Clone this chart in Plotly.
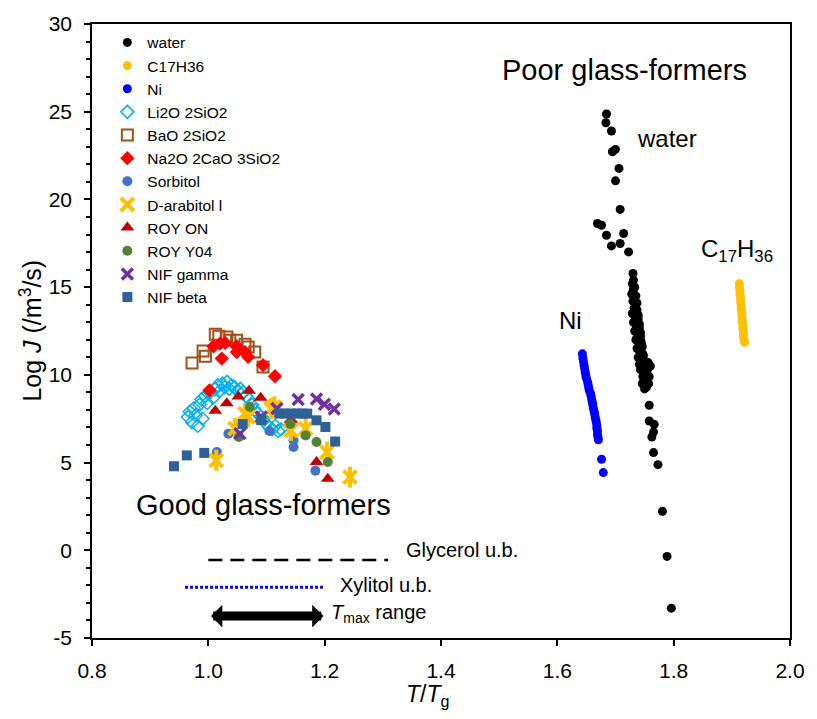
import plotly.graph_objects as go

# ---- nucleation rate data: log10 J (m^-3 s^-1) against reduced temperature T/Tg ----
water_x = [1.6845, 1.6835, 1.693, 1.6947, 1.6998, 1.706, 1.700, 1.708, 1.669, 1.676,
           1.6845, 1.714, 1.693, 1.708, 1.7225, 1.730,
           1.729, 1.731, 1.728, 1.733, 1.730, 1.735, 1.732, 1.737, 1.729, 1.734,
           1.739, 1.731, 1.736, 1.741, 1.733, 1.738, 1.743, 1.735, 1.740, 1.745,
           1.737, 1.742, 1.747, 1.739, 1.744, 1.750, 1.741, 1.746, 1.752, 1.743,
           1.749, 1.755, 1.747, 1.752, 1.746, 1.757, 1.753,
           1.731, 1.733, 1.730, 1.735, 1.732, 1.737, 1.734, 1.736, 1.739, 1.735,
           1.741, 1.738, 1.743, 1.740, 1.744, 1.746, 1.742, 1.748, 1.745, 1.750,
           1.747, 1.753, 1.749, 1.756, 1.751, 1.760, 1.748, 1.758, 1.754, 1.750,
           1.758, 1.758, 1.7665, 1.7654, 1.7625, 1.7654, 1.773, 1.7807, 1.7886, 1.796]
water_y = [24.87, 24.37, 23.9, 22.72, 22.85, 21.77, 21.06, 19.43, 18.63, 18.53,
           17.96, 18.06, 17.35, 17.49, 17.01, 15.78,
           15.2, 14.9, 14.6, 14.4, 14.2, 14.0, 13.8, 13.7, 13.5, 13.3,
           13.2, 13.0, 12.8, 12.7, 12.5, 12.3, 12.2, 12.0, 11.8, 11.7,
           11.5, 11.3, 11.2, 11.0, 10.9, 10.8, 10.6, 10.5, 10.6, 10.3,
           10.1, 10.3, 9.9, 9.7, 9.5, 9.5, 9.3,
           15.4, 15.0, 14.75, 14.5, 14.3, 14.1, 13.9, 13.6, 13.4, 13.1,
           12.9, 12.6, 12.4, 12.1, 11.9, 11.6, 11.4, 11.1, 10.95, 10.7,
           10.4, 10.2, 10.0, 10.7, 9.8, 10.5, 9.6, 9.9, 9.4, 9.2,
           8.27, 7.37, 7.18, 6.74, 6.46, 5.57, 4.88, 2.22, -0.35, -3.30]

c17_x = [1.913, 1.913, 1.914, 1.914, 1.915, 1.915, 1.916, 1.916, 1.917, 1.917,
         1.918, 1.918, 1.919, 1.919, 1.920, 1.920, 1.921, 1.922]
c17_y = [15.2, 15.0, 14.8, 14.6, 14.4, 14.2, 14.0, 13.8, 13.6, 13.4,
         13.2, 13.0, 12.8, 12.6, 12.4, 12.2, 12.0, 11.85]

ni_x = [1.643, 1.644, 1.645, 1.646, 1.647, 1.648, 1.649, 1.650, 1.652, 1.653,
        1.654, 1.655, 1.657, 1.658, 1.659, 1.660, 1.661, 1.662, 1.663, 1.664,
        1.665, 1.666, 1.667, 1.668, 1.668, 1.669, 1.669, 1.670, 1.6705, 1.676, 1.679]
ni_y = [11.2, 10.95, 10.75, 10.55, 10.35, 10.15, 9.95, 9.8, 9.6, 9.45,
        9.25, 9.1, 8.95, 8.8, 8.6, 8.45, 8.3, 8.1, 7.95, 7.8,
        7.6, 7.45, 7.3, 7.1, 6.95, 6.8, 6.6, 6.45, 6.3, 5.19, 4.43]

li2o_x = [0.965, 0.968, 0.972, 0.975, 0.978, 0.982, 0.985, 0.988, 0.990, 0.995,
          0.998, 1.003, 1.008, 1.012, 1.016, 1.020, 1.024, 1.028, 1.032, 1.036,
          1.040, 1.045, 1.050, 1.055, 1.060, 1.065, 1.070, 1.075, 1.080, 1.085,
          1.090, 1.095, 1.100, 1.105, 1.110, 1.115, 1.120, 1.125]
li2o_y = [7.6, 7.9, 7.3, 8.1, 7.7, 7.1, 8.3, 8.6, 7.5, 8.8,
          8.4, 9.0, 8.7, 9.2, 9.4, 9.1, 9.5, 9.3, 9.6, 9.2,
          9.4, 9.3, 9.1, 9.2, 9.0, 8.8, 8.6, 8.3, 8.0, 7.8,
          7.6, 7.5, 7.2, 7.0, 6.9, 7.1, 6.8, 6.9]

bao_x = [0.972, 0.991, 0.995, 1.012, 1.018, 1.032, 1.037, 1.0486, 1.063, 1.0685, 1.0798, 1.094]
bao_y = [10.68, 11.36, 11.06, 12.32, 12.2, 12.16, 11.97, 11.97, 11.75, 11.59, 11.3, 10.45]

na2o_x = [1.002, 1.009, 1.020, 1.029, 1.023, 1.0486, 1.049, 1.063, 1.0685, 1.094, 1.1147, 1.142]
na2o_y = [9.12, 11.63, 11.78, 11.82, 10.93, 11.63, 11.3, 11.3, 11.02, 10.55, 9.92, 7.31]

sorb_x = [1.0147, 1.0345, 1.105, 1.1465, 1.1465, 1.184]
sorb_y = [5.6, 6.65, 6.8, 6.27, 5.89, 4.54]

arab_x = [1.0136, 1.046, 1.0628, 1.0685, 1.108, 1.1137, 1.142, 1.1673, 1.204, 1.2436]
arab_y = [5.13, 6.93, 7.79, 7.6, 8.08, 8.17, 6.84, 6.94, 5.6, 4.17]

royon_x = [1.012, 1.0317, 1.0515, 1.070, 1.090, 1.186, 1.2053]
royon_y = [7.95, 8.38, 8.76, 9.1, 8.7, 5.03, 4.08]

roy04_x = [1.0527, 1.0713, 1.141, 1.1673, 1.186, 1.2053]
roy04_y = [6.46, 8.17, 7.2, 6.55, 6.17, 5.03]

nifg_x = [1.0544, 1.091, 1.118, 1.1544, 1.186, 1.1996, 1.2165]
nifg_y = [6.65, 7.6, 8.08, 8.59, 8.62, 8.33, 8.05]

nifb_x = [0.941, 0.963, 0.993, 1.059, 1.091, 1.122, 1.132, 1.142, 1.152, 1.162, 1.170,
          1.186, 1.2013, 1.218]
nifb_y = [4.79, 5.41, 5.55, 7.2, 7.43, 7.79, 7.8, 7.79, 7.8, 7.79, 7.79,
          7.41, 7.03, 6.2]

# upper bounds and T_max range
glycerol_x = [1.0, 1.309]
glycerol_y = [-0.55, -0.55]
xylitol_x = [0.96, 1.197]
xylitol_y = [-2.1, -2.1]
tmax_range = [1.002, 1.198]
tmax_y = -3.75

# axis ticks
x_ticks = [0.8, 1.0, 1.2, 1.4, 1.6, 1.8, 2.0]
x_ticktext = ["0.8", "1.0", "1.2", "1.4", "1.6", "1.8", "2.0"]
y_ticks = [-5, 0, 5, 10, 15, 20, 25, 30]
y_ticktext = ["-5", "0", "5", "10", "15", "20", "25", "30"]

FONT = "Liberation Sans, Arial, sans-serif"

fig = go.Figure()

series = [
    ("water", water_x, water_y, dict(symbol="circle", size=9, color="#000000")),
    ("C17H36", c17_x, c17_y, dict(symbol="circle", size=9, color="#FFC000")),
    ("Ni", ni_x, ni_y, dict(symbol="circle", size=9, color="#0000FF")),
    ("Li2O 2SiO2", li2o_x, li2o_y,
     dict(symbol="diamond-open", size=10, color="#00B0F0", line=dict(width=1.5, color="#00B0F0"))),
    ("BaO 2SiO2", bao_x, bao_y,
     dict(symbol="square-open", size=11, color="#A0501A", line=dict(width=2, color="#A0501A"))),
    ("Na2O 2CaO 3SiO2", na2o_x, na2o_y, dict(symbol="diamond", size=11, color="#FF0000")),
    ("Sorbitol", sorb_x, sorb_y, dict(symbol="circle", size=10, color="#4472C4")),
    ("D-arabitol l", arab_x, arab_y,
     dict(symbol="x-thin-open", size=13, color="#FFC000", line=dict(width=4, color="#FFC000"))),
    ("ROY ON", royon_x, royon_y, dict(symbol="triangle-up", size=12, color="#C00000")),
    ("ROY Y04", roy04_x, roy04_y, dict(symbol="circle", size=10, color="#548235")),
    ("NIF gamma", nifg_x, nifg_y,
     dict(symbol="x-thin-open", size=11, color="#7030A0", line=dict(width=3.5, color="#7030A0"))),
    ("NIF beta", nifb_x, nifb_y, dict(symbol="square", size=10, color="#2E6196")),
]
for name, xs, ys, mk in series:
    fig.add_trace(go.Scatter(x=xs, y=ys, mode="markers", name=name, marker=mk,
                             legendgroup=name))
    if name == "D-arabitol l":
        # vertical stroke completing the star-shaped marker
        fig.add_trace(go.Scatter(x=xs, y=ys, mode="markers", name=name, showlegend=False,
                                 legendgroup=name,
                                 marker=dict(symbol="line-ns-open", size=15, color="#FFC000",
                                             line=dict(width=4, color="#FFC000"))))

fig.add_trace(go.Scatter(x=glycerol_x, y=glycerol_y, mode="lines", showlegend=False,
                         line=dict(color="#000000", width=2.5, dash="14px,8px")))
fig.add_trace(go.Scatter(x=xylitol_x, y=xylitol_y, mode="lines", showlegend=False,
                         line=dict(color="#0000FF", width=3, dash="3px,2px")))

# double-headed arrow for the T_max range
fig.add_annotation(x=tmax_range[1], y=tmax_y, ax=tmax_range[0], ay=tmax_y,
                   xref="x", yref="y", axref="x", ayref="y", text="",
                   showarrow=True, arrowhead=1, startarrowhead=1, arrowside="end+start",
                   arrowwidth=9, arrowsize=0.42, startarrowsize=0.42, arrowcolor="#000000",
                   standoff=0, startstandoff=0)

def label(x, y, text, size, xanchor="center", xref="x", yref="y"):
    fig.add_annotation(x=x, y=y, xref=xref, yref=yref, text=text, showarrow=False,
                       xanchor=xanchor, yanchor="middle",
                       font=dict(family=FONT, size=size, color="#000000"))

label(1.715, 27.4, "Poor glass-formers", 29)
label(1.094, 2.56, "Good glass-formers", 29)
label(1.789, 23.5, "water", 24)
label(1.623, 13.1, "Ni", 24)
label(1.843, 17.1, "C<sub>17</sub>H<sub>36</sub>", 24, xanchor="left")
label(1.3366, 0.0, "Glycerol u.b.", 20, xanchor="left")
label(1.2226, -2.0, "Xylitol u.b.", 20, xanchor="left")
label(1.2075, -3.6, "<i>T</i><sub>max</sub> range", 20, xanchor="left")
# axis titles
label(0.481, -0.094, "<i>T</i>/<i>T</i><sub>g</sub>", 23, xref="paper", yref="paper")
fig.add_annotation(x=-0.088, y=0.5, xref="paper", yref="paper", showarrow=False,
                   text="Log <i>J</i> (/m<sup>3</sup>/s)", textangle=-90,
                   xanchor="center", yanchor="middle",
                   font=dict(family=FONT, size=25, color="#000000"))

fig.update_layout(
    width=817, height=719,
    margin=dict(l=92, r=18, t=24, b=81),
    plot_bgcolor="#FFFFFF", paper_bgcolor="#FFFFFF",
    font=dict(family=FONT, size=21, color="#000000"),
    showlegend=True,
    legend=dict(x=0.022, y=0.997, xanchor="left", yanchor="top",
                bgcolor="rgba(0,0,0,0)", font=dict(family=FONT, size=15.5),
                itemsizing="trace", tracegroupgap=0),
)
fig.update_xaxes(
    range=[0.8, 2.0], tickvals=x_ticks, ticktext=x_ticktext,
    showgrid=False, zeroline=False,
    showline=True, linecolor="#000000", linewidth=1.5, mirror=True,
    ticks="outside", ticklen=6, tickwidth=1.5, tickcolor="#000000",
    ticklabelstandoff=7,
)
fig.update_yaxes(
    range=[-5, 30], tickvals=y_ticks, ticktext=y_ticktext,
    showgrid=False, zeroline=False,
    showline=True, linecolor="#000000", linewidth=1.5, mirror=True,
    ticks="outside", ticklen=6, tickwidth=1.5, tickcolor="#000000",
    ticklabelstandoff=8,
    minor=dict(tickvals=list(range(-5, 31)), ticks="outside", ticklen=4, tickwidth=1.5,
               tickcolor="#000000", showgrid=False),
)

fig.write_html("out.html")
